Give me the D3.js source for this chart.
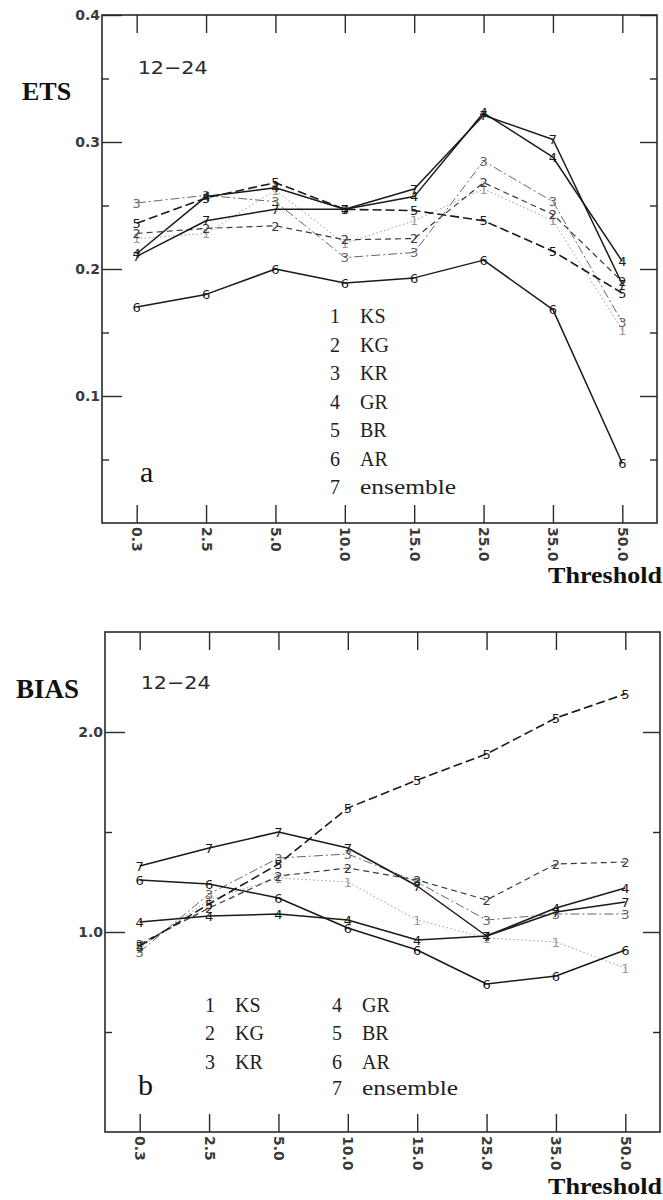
<!DOCTYPE html>
<html>
<head>
<meta charset="utf-8">
<script src="https://cdn.jsdelivr.net/npm/d3@7"></script>
<style>
  html, body { margin: 0; padding: 0; background: #fff; }
  svg { display: block; }
</style>
</head>
<body>
<svg id="chart" width="663" height="1200"></svg>
<script>
// ---------------- data ----------------
const thresholds = ["0.3", "2.5", "5.0", "10.0", "15.0", "25.0", "35.0", "50.0"];
const seriesIds = ["1", "2", "3", "4", "5", "6", "7"];
const seriesNames = ["KS", "KG", "KR", "GR", "BR", "AR", "ensemble"];

// ETS (panel a)
const etsKS  = [0.224, 0.228, 0.262, 0.220, 0.238, 0.263, 0.238, 0.152];
const etsKG  = [0.228, 0.232, 0.234, 0.223, 0.224, 0.268, 0.243, 0.190];
const etsKR  = [0.252, 0.258, 0.253, 0.209, 0.213, 0.285, 0.253, 0.158];
const etsGR  = [0.212, 0.257, 0.264, 0.247, 0.257, 0.323, 0.288, 0.206];
const etsBR  = [0.236, 0.256, 0.268, 0.247, 0.246, 0.238, 0.214, 0.181];
const etsAR  = [0.170, 0.180, 0.200, 0.189, 0.193, 0.207, 0.168, 0.047];
const etsENS = [0.210, 0.238, 0.247, 0.247, 0.263, 0.321, 0.302, 0.188];

// BIAS (panel b)
const biasKS  = [0.92, 1.16, 1.27, 1.25, 1.06, 0.97, 0.95, 0.82];
const biasKG  = [0.94, 1.12, 1.28, 1.32, 1.26, 1.16, 1.34, 1.35];
const biasKR  = [0.90, 1.19, 1.37, 1.39, 1.25, 1.06, 1.09, 1.09];
const biasGR  = [1.05, 1.08, 1.09, 1.06, 0.96, 0.98, 1.12, 1.22];
const biasBR  = [0.93, 1.14, 1.34, 1.62, 1.76, 1.89, 2.07, 2.19];
const biasAR  = [1.26, 1.24, 1.17, 1.02, 0.91, 0.74, 0.78, 0.91];
const biasENS = [1.33, 1.42, 1.50, 1.42, 1.23, 0.98, 1.10, 1.15];

const etsMajorTicks = [0.1, 0.2, 0.3, 0.4];
const etsMinorTicks = [0.05, 0.15, 0.25, 0.35];
const biasMajorTicks = [1.0, 2.0];
const biasMinorTicks = [0.5, 1.5];

// ---------------- styles ----------------
const styles = [
  { color: "#9a9a9a", width: 1.0, dash: "1.5,2.5" },  // KS dotted
  { color: "#3a3a3a", width: 1.2, dash: "6,4" },      // KG dashed
  { color: "#666666", width: 1.0, dash: "9,3,2,3" },  // KR dash-dot
  { color: "#1a1a1a", width: 1.5, dash: null },       // GR solid
  { color: "#1a1a1a", width: 1.6, dash: "9,4" },      // BR long dash
  { color: "#1a1a1a", width: 1.5, dash: null },       // AR solid
  { color: "#1a1a1a", width: 1.5, dash: null }        // ensemble solid
];
const drawOrder = [0, 2, 1, 4, 5, 3, 6];

const svg = d3.select("#chart");
const ink = "#2a2a2a";
const serif = "'Liberation Serif', 'DejaVu Serif', serif";
const sans = "'DejaVu Sans', 'Liberation Sans', sans-serif";

function panel(cfg) {
  const g = svg.append("g");
  const x = d3.scalePoint().domain(thresholds).range([cfg.left, cfg.right]).padding(0.5);
  const y = d3.scaleLinear().domain(cfg.domain).range([cfg.bottom, cfg.top]);

  // frame
  g.append("rect")
    .attr("x", cfg.left).attr("y", cfg.top)
    .attr("width", cfg.right - cfg.left).attr("height", cfg.bottom - cfg.top)
    .attr("fill", "none").attr("stroke", ink).attr("stroke-width", 1.6);

  const styleAxis = sel => {
    sel.select(".domain").remove();
    sel.selectAll(".tick line").attr("stroke", ink).attr("stroke-width", 1.4);
  };

  // x ticks inward at bottom & top
  g.append("g").attr("transform", `translate(0,${cfg.bottom})`)
    .call(d3.axisTop(x).tickSize(18).tickFormat("")).call(styleAxis);
  g.append("g").attr("transform", `translate(0,${cfg.top})`)
    .call(d3.axisBottom(x).tickSize(18).tickFormat("")).call(styleAxis);

  // x labels rotated
  const xl = g.append("g").attr("transform", `translate(0,${cfg.bottom})`)
    .call(d3.axisBottom(x).tickSize(0).tickPadding(0));
  xl.select(".domain").remove();
  xl.selectAll(".tick text")
    .attr("transform", "rotate(90)")
    .attr("x", 4).attr("y", 0).attr("dy", "0.36em")
    .attr("text-anchor", "start")
    .attr("font-family", sans).attr("font-size", 14).attr("font-weight", "bold")
    .attr("fill", "#3a3a3a");

  // y ticks inward left & right
  g.append("g").attr("transform", `translate(${cfg.left},0)`)
    .call(d3.axisRight(y).tickValues(cfg.major).tickSize(20).tickFormat("")).call(styleAxis);
  g.append("g").attr("transform", `translate(${cfg.left},0)`)
    .call(d3.axisRight(y).tickValues(cfg.minor).tickSize(7).tickFormat("")).call(styleAxis);
  g.append("g").attr("transform", `translate(${cfg.right},0)`)
    .call(d3.axisLeft(y).tickValues(cfg.major).tickSize(17).tickFormat("")).call(styleAxis);
  g.append("g").attr("transform", `translate(${cfg.right},0)`)
    .call(d3.axisLeft(y).tickValues(cfg.minor).tickSize(7).tickFormat("")).call(styleAxis);

  // y labels
  const yl = g.append("g").attr("transform", `translate(${cfg.left - 2},0)`)
    .call(d3.axisLeft(y).tickValues(cfg.major).tickSize(0).tickPadding(0).tickFormat(d3.format(".1f")));
  yl.select(".domain").remove();
  yl.selectAll(".tick text")
    .attr("font-family", sans).attr("font-size", 14).attr("font-weight", "bold")
    .attr("fill", "#3a3a3a");

  // series
  drawOrder.forEach(i => {
    const vals = cfg.series[i];
    const st = styles[i];
    const pts = vals.map((v, k) => [x(thresholds[k]), y(v)]);
    const path = g.append("path")
      .attr("d", d3.line()(pts))
      .attr("fill", "none")
      .attr("stroke", st.color)
      .attr("stroke-width", st.width)
      .attr("stroke-linejoin", "round");
    if (st.dash) path.attr("stroke-dasharray", st.dash);
    g.selectAll(null).data(vals).enter().append("text")
      .attr("x", (v, k) => x(thresholds[k]))
      .attr("y", v => y(v))
      .attr("dy", "0.36em")
      .attr("text-anchor", "middle")
      .attr("font-family", sans).attr("font-size", 13)
      .attr("fill", st.color)
      .text(seriesIds[i]);
  });

  // y title
  g.append("text").attr("x", cfg.titleX).attr("y", cfg.titleY)
    .attr("font-family", serif).attr("font-weight", "bold")
    .attr("font-size", cfg.titleSize).attr("fill", "#111")
    .text(cfg.title);

  // 12-24 label
  g.append("text").attr("x", x(thresholds[0]) + 1).attr("y", cfg.periodY)
    .attr("font-family", sans).attr("font-size", 18).attr("fill", ink)
    .attr("textLength", 70).attr("lengthAdjust", "spacingAndGlyphs")
    .text("12\u221224");

  // panel letter
  g.append("text").attr("x", cfg.letterX).attr("y", cfg.letterY)
    .attr("font-family", serif).attr("font-size", 30).attr("fill", "#111")
    .text(cfg.letter);

  // Threshold
  g.append("text").attr("x", 662).attr("y", cfg.thrY)
    .attr("text-anchor", "end")
    .attr("font-family", serif).attr("font-weight", "bold").attr("font-size", 23)
    .attr("fill", "#111")
    .attr("textLength", 114).attr("lengthAdjust", "spacingAndGlyphs")
    .text("Threshold");

  // legend
  const lg = g.append("g");
  cfg.legend.forEach(item => {
    const i = item.idx;
    lg.append("text").attr("x", item.x).attr("y", item.y)
      .attr("text-anchor", "middle")
      .attr("font-family", serif).attr("font-size", 20).attr("fill", "#222")
      .text(seriesIds[i]);
    const t = lg.append("text").attr("x", item.x + 25).attr("y", item.y)
      .attr("font-family", serif).attr("font-size", 20).attr("fill", "#222")
      .text(seriesNames[i]);
    if (seriesNames[i] === "ensemble") t.attr("textLength", 96).attr("lengthAdjust", "spacingAndGlyphs");
  });
  return { x, y };
}

// panel a
panel({
  left: 102, right: 657, top: 15, bottom: 523,
  domain: [0, 0.4], major: etsMajorTicks, minor: etsMinorTicks,
  series: [etsKS, etsKG, etsKR, etsGR, etsBR, etsAR, etsENS],
  title: "ETS", titleX: 22, titleY: 100, titleSize: 26,
  periodY: 74, letter: "a", letterX: 140, letterY: 482, thrY: 583,
  legend: [0, 1, 2, 3, 4, 5, 6].map((i, r) => ({ idx: i, x: 335, y: 323 + r * 28.5 }))
});

// panel b
panel({
  left: 105, right: 660, top: 632, bottom: 1132,
  domain: [0, 2.5], major: biasMajorTicks, minor: biasMinorTicks,
  series: [biasKS, biasKG, biasKR, biasGR, biasBR, biasAR, biasENS],
  title: "BIAS", titleX: 16, titleY: 698, titleSize: 27,
  periodY: 689, letter: "b", letterX: 138, letterY: 1095, thrY: 1194,
  legend: [
    { idx: 0, x: 210, y: 1012 }, { idx: 1, x: 210, y: 1040 }, { idx: 2, x: 210, y: 1069 },
    { idx: 3, x: 337, y: 1012 }, { idx: 4, x: 337, y: 1040 }, { idx: 5, x: 337, y: 1069 },
    { idx: 6, x: 337, y: 1095 }
  ]
});
</script>
</body>
</html>
